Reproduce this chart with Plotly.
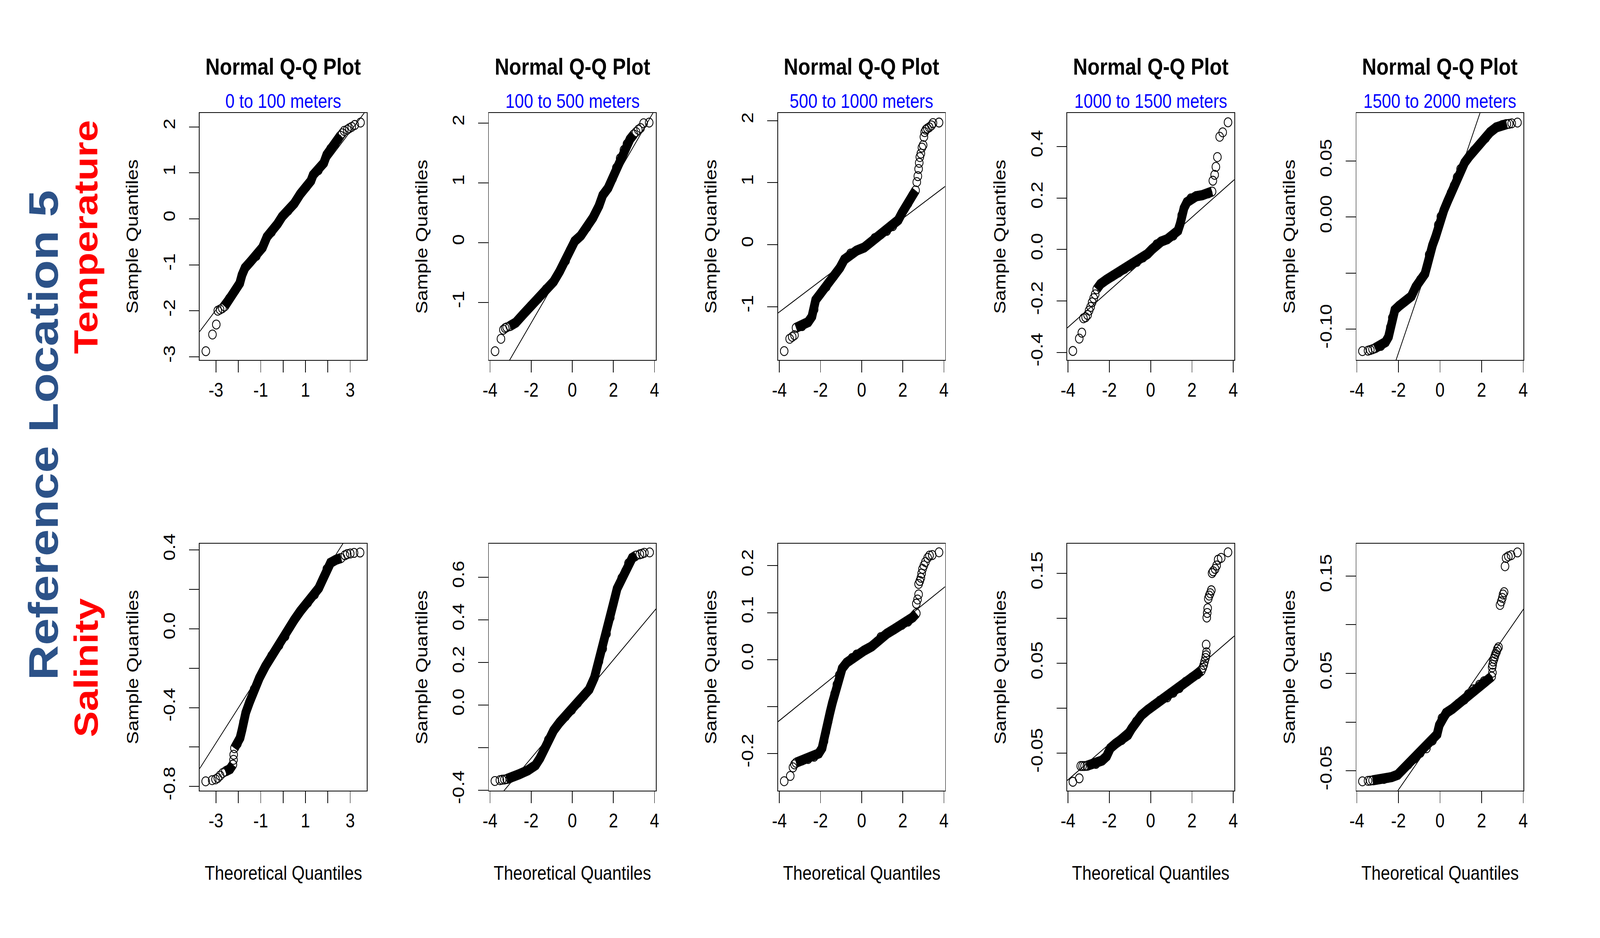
import plotly.graph_objects as go

W, H = 4800, 2400

# ------------------------------------------------------------------ data
depth_labels = ["0 to 100 meters", "100 to 500 meters", "500 to 1000 meters",
                "1000 to 1500 meters", "1500 to 2000 meters"]
row_labels = ["Temperature", "Salinity"]
main_label = "Reference Location 5"

# Temperature panels: dense run of points (band) and outlying points
T1_theo = [-2.614,-2.411,-2.141,-1.938,-1.836,-1.701,-1.464,-1.193,-0.923,-0.720,-0.517,-0.246,-0.043,0.227,0.498,0.769,1.039,1.242,1.344,1.581,1.817,1.953,2.122,2.325,2.460,2.562]
T1_samp = [-1.903,-1.737,-1.555,-1.400,-1.219,-1.064,-0.935,-0.805,-0.624,-0.391,-0.288,-0.107,0.049,0.178,0.333,0.540,0.696,0.825,0.954,1.058,1.213,1.394,1.524,1.627,1.731,1.809]
T1_theo_out = [-3.453,-3.156,-2.986,-2.919,-2.817,-2.716,2.65,2.731,2.866,2.96,3.069,3.204,3.461]
T1_samp_out = [-2.876,-2.513,-2.296,-1.996,-1.970,-1.944,1.86,1.912,1.938,1.97,2.000,2.041,2.093]

T2_theo = [-3.043,-2.749,-2.381,-2.013,-1.645,-1.277,-0.909,-0.615,-0.321,-0.100,0.121,0.415,0.709,1.004,1.298,1.482,1.740,1.960,2.144,2.328,2.512,2.659,2.806,2.990]
T2_samp = [-1.398,-1.339,-1.199,-1.060,-0.932,-0.781,-0.653,-0.482,-0.303,-0.124,0.024,0.116,0.255,0.414,0.614,0.793,0.912,1.072,1.251,1.410,1.550,1.649,1.729,1.809]
T2_theo_out = [-3.757,-3.470,-3.352,-3.264,-3.191,3.101,3.211,3.322,3.469,3.741]
T2_samp_out = [-1.817,-1.610,-1.458,-1.430,-1.418,1.849,1.888,1.916,1.996,2.008]

T3_theo = [-3.191,-2.896,-2.602,-2.418,-2.308,-2.234,-2.013,-1.719,-1.351,-1.057,-0.836,-0.542,-0.247,0.121,0.341,0.636,0.930,1.224,1.519,1.776,1.960,2.255,2.475,2.623]
T3_samp = [-1.342,-1.315,-1.250,-1.161,-1.046,-0.892,-0.796,-0.681,-0.508,-0.374,-0.239,-0.143,-0.097,-0.047,0.010,0.106,0.164,0.222,0.299,0.395,0.510,0.663,0.798,0.875]
T3_theo_out = [-3.765,-3.500,-3.375,-3.264,2.681,2.733,2.770,2.80,2.829,2.880,2.932,2.990,3.027,3.064,3.123,3.197,3.285,3.395,3.469,3.763]
T3_samp_out = [-1.718,-1.519,-1.488,-1.461,1.009,1.105,1.221,1.32,1.413,1.470,1.566,1.605,1.739,1.816,1.854,1.874,1.893,1.924,1.962,1.970]

T4_theo = [-2.611,-2.428,-2.134,-1.840,-1.546,-1.252,-0.958,-0.664,-0.370,-0.150,0.071,0.291,0.511,0.805,1.099,1.320,1.430,1.503,1.614,1.760,1.944,2.201,2.495,2.789,2.973]
T4_samp = [-0.154,-0.134,-0.117,-0.103,-0.089,-0.075,-0.063,-0.048,-0.031,-0.017,0.001,0.020,0.031,0.040,0.054,0.073,0.100,0.133,0.161,0.184,0.199,0.207,0.211,0.218,0.225]
T4_theo_out = [-3.765,-3.456,-3.331,-3.251,-3.148,-3.052,-2.979,-2.905,-2.832,-2.758,-2.685,3.010,3.098,3.157,3.230,3.340,3.487,3.744]
T4_samp_out = [-0.394,-0.346,-0.323,-0.267,-0.263,-0.254,-0.237,-0.223,-0.205,-0.189,-0.174,0.267,0.290,0.321,0.359,0.438,0.455,0.494]

T5_theo = [-3.132,-2.840,-2.621,-2.476,-2.388,-2.293,-2.169,-1.965,-1.673,-1.381,-1.163,-0.944,-0.725,-0.616,-0.521,-0.360,-0.214,-0.083,0.041,0.187,0.369,0.530,0.675,0.821,0.989,1.186,1.405,1.624,1.901,2.193,2.411,2.703,2.995,3.214]
T5_samp = [-0.1170,-0.1149,-0.1115,-0.1068,-0.0983,-0.0898,-0.0828,-0.0792,-0.0750,-0.0707,-0.0622,-0.0559,-0.0506,-0.0431,-0.0336,-0.0251,-0.0177,-0.0071,0.0004,0.0061,0.0142,0.0216,0.0279,0.0354,0.0428,0.0485,0.0540,0.0591,0.0647,0.0704,0.0757,0.0799,0.0820,0.0829]
T5_theo_out = [-3.730,-3.460,-3.351,-3.241,3.323,3.447,3.724]
T5_samp_out = [-0.1195,-0.1191,-0.1185,-0.1178,0.0831,0.0835,0.0842]

# Salinity panels
S1_theo = [-2.581,-2.378,-2.242,None,-2.175,-2.039,-1.924,-1.836,-1.769,-1.667,-1.498,-1.295,-1.058,-0.788,-0.517,-0.179,0.092,0.295,0.498,0.769,1.107,1.411,1.594,1.784,1.953,2.122,2.359,2.595]
S1_samp = [-0.724,-0.712,-0.689,None,-0.606,-0.583,-0.554,-0.513,-0.472,-0.425,-0.372,-0.307,-0.249,-0.190,-0.137,-0.084,-0.038,0.007,0.045,0.089,0.133,0.174,0.206,0.253,0.303,0.335,0.350,0.359]
S1_theo_out = [-3.460,-3.169,-3.020,-2.919,-2.817,-2.696,-2.215,-2.208,2.765,2.866,3.001,3.171,3.441]
S1_samp_out = [-0.774,-0.768,-0.764,-0.757,-0.745,-0.732,-0.665,-0.639,0.373,0.379,0.382,0.385,0.387]

S2_theo = [-3.191,-3.043,-2.602,-2.160,-1.792,-1.572,-1.388,-1.167,-0.909,-0.615,-0.321,-0.026,0.268,0.562,0.820,1.077,1.298,1.482,1.666,1.850,1.997,2.181,2.402,2.586,2.733,2.917,3.101]
S2_samp = [-0.348,-0.344,-0.326,-0.307,-0.283,-0.250,-0.212,-0.164,-0.120,-0.082,-0.053,-0.023,0.010,0.043,0.073,0.129,0.205,0.265,0.335,0.411,0.476,0.547,0.596,0.628,0.666,0.691,0.702]
S2_theo_out = [-3.765,-3.522,-3.411,-3.301,3.285,3.395,3.506,3.763]
S2_samp_out = [-0.357,-0.353,-0.351,-0.350,0.708,0.711,0.715,0.717]

S3_theo = [-3.191,-2.896,-2.602,-2.308,-2.087,-1.925,-1.829,-1.741,-1.631,-1.535,-1.425,-1.314,-1.204,-1.093,-0.946,-0.726,-0.468,-0.247,0.121,0.489,0.746,0.930,1.224,1.592,1.960,2.255,2.475,2.659]
S3_samp = [-0.2197,-0.2148,-0.2118,-0.2069,-0.2000,-0.1887,-0.1739,-0.1542,-0.1320,-0.1123,-0.0926,-0.0729,-0.0532,-0.0335,-0.0187,-0.0064,0.0034,0.0108,0.0192,0.0281,0.0379,0.0478,0.0552,0.0650,0.0739,0.0808,0.0897,0.0985]
S3_theo_out = [-3.765,-3.470,-3.338,-3.264,2.659,2.718,2.770,2.770,2.829,2.880,2.917,2.961,3.027,3.101,3.211,3.300,3.432,3.763]
S3_samp_out = [-0.2591,-0.2478,-0.2296,-0.2232,0.1192,0.1281,0.1389,0.1611,0.1675,0.1744,0.1833,0.1931,0.2005,0.2079,0.2167,0.2217,0.2227,0.2286]

S4_theo = [-3.089,-2.648,-2.354,-2.134,-1.950,-1.693,-1.399,-1.105,-0.921,-0.701,-0.444,-0.150,0.144,0.438,0.805,1.099,1.393,1.687,1.981,2.275,2.458]
S4_samp = [-0.0639,-0.0618,-0.0580,-0.0533,-0.0443,-0.0392,-0.0353,-0.0297,-0.0225,-0.0148,-0.0076,-0.0019,0.0032,0.0084,0.0122,0.0174,0.0225,0.0294,0.0341,0.0379,0.0418]
S4_theo_out = [-3.765,-3.456,-3.383,-3.295,-3.199,2.52,2.569,2.61,2.657,2.68,2.701,2.686,2.716,2.738,2.760,2.789,2.833,2.885,2.936,2.973,3.024,3.120,3.193,3.267,3.414,3.744]
S4_samp_out = [-0.0816,-0.0778,-0.0641,-0.0641,-0.0641,0.045,0.0482,0.052,0.0559,0.059,0.0623,0.0708,0.1009,0.1060,0.1112,0.1220,0.1253,0.1279,0.1312,0.1503,0.1523,0.1549,0.1587,0.1652,0.1672,0.1734]

S5_theo = [-3.241,-2.694,-2.330,-2.038,-1.819,-1.527,-1.236,-0.944,-0.652,-0.360,-0.141,-0.032,0.092,0.296,0.588,0.880,1.172,1.354,1.609,1.901,2.120,2.338,2.484]
S5_samp = [-0.0597,-0.0583,-0.0564,-0.0540,-0.0493,-0.0434,-0.0374,-0.0315,-0.0268,-0.0189,-0.0125,-0.0030,0.0041,0.0095,0.0136,0.0190,0.0231,0.0285,0.0337,0.0385,0.0421,0.0444,0.0468]
S5_theo_out = [-3.730,-3.460,-3.351,2.521,2.506,2.53,2.557,2.60,2.630,2.67,2.718,2.76,2.813,2.886,2.944,2.995,3.031,3.082,3.126,3.177,3.287,3.418,3.724]
S5_samp_out = [-0.0607,-0.0602,-0.0600,0.0508,0.0563,0.059,0.0622,0.065,0.0674,0.070,0.0722,0.075,0.0769,0.1203,0.1239,0.1275,0.1310,0.1334,0.1600,0.1685,0.1702,0.1713,0.1742]

# qqline intercepts and slopes (T1..T5, S1..S5)
qq_intercept = [-0.041, -0.159, -0.081, -0.017, -0.0122, -0.0446, -0.0188, 0.0117, 0.0, -0.0078]
qq_slope = [0.646, 0.593, 0.2514, 0.0712, 0.05456, 0.1783, 0.1155, 0.03539, 0.01985, 0.03084]

# tick labels
x_ticks_col1 = [-3, -2, -1, 0, 1, 2, 3]
x_text_col1 = ["-3", "", "-1", "", "1", "", "3"]
x_ticks_other = [-4, -2, 0, 2, 4]
x_text_other = ["-4", "-2", "0", "2", "4"]

y_ticks = [
    [-3, -2, -1, 0, 1, 2],
    [-1, 0, 1, 2],
    [-1, 0, 1, 2],
    [-0.4, -0.2, 0.0, 0.2, 0.4],
    [-0.10, -0.05, 0.00, 0.05],
    [-0.8, -0.6, -0.4, -0.2, 0.0, 0.2, 0.4],
    [-0.4, -0.2, 0.0, 0.2, 0.4, 0.6],
    [-0.2, -0.1, 0.0, 0.1, 0.2],
    [-0.05, 0.00, 0.05, 0.10, 0.15],
    [-0.05, 0.00, 0.05, 0.10, 0.15],
]
y_text = [
    ["-3", "-2", "-1", "0", "1", "2"],
    ["-1", "0", "1", "2"],
    ["-1", "0", "1", "2"],
    ["-0.4", "-0.2", "0.0", "0.2", "0.4"],
    ["-0.10", "", "0.00", "0.05"],
    ["-0.8", "", "-0.4", "", "0.0", "", "0.4"],
    ["-0.4", "", "0.0", "0.2", "0.4", "0.6"],
    ["-0.2", "", "0.0", "0.1", "0.2"],
    ["-0.05", "", "0.05", "", "0.15"],
    ["-0.05", "", "0.05", "", "0.15"],
]

# ------------------------------------------------------------------ layout config
dense = [(T1_theo, T1_samp), (T2_theo, T2_samp), (T3_theo, T3_samp), (T4_theo, T4_samp), (T5_theo, T5_samp),
         (S1_theo, S1_samp), (S2_theo, S2_samp), (S3_theo, S3_samp), (S4_theo, S4_samp), (S5_theo, S5_samp)]
outl = [(T1_theo_out, T1_samp_out), (T2_theo_out, T2_samp_out), (T3_theo_out, T3_samp_out),
        (T4_theo_out, T4_samp_out), (T5_theo_out, T5_samp_out), (S1_theo_out, S1_samp_out),
        (S2_theo_out, S2_samp_out), (S3_theo_out, S3_samp_out), (S4_theo_out, S4_samp_out),
        (S5_theo_out, S5_samp_out)]

x_ranges = [[-3.73, 3.74], [-4.06, 4.07], [-4.066, 4.06], [-4.04, 4.05], [-4.02, 4.015]]
y_ranges = [[-3.067, 2.300], [-1.964, 2.167], [-1.861, 2.123], [-0.429, 0.530], [-0.1274, 0.0927],
            [-0.821, 0.432], [-0.402, 0.758], [-0.279, 0.247], [-0.0914, 0.183], [-0.0702, 0.1832]]

col_left = [582 + 873.75 * i for i in range(5)]
row_top = [270, 1400]
BW, BH = 505, 648
FONT = "Liberation Sans, Arial, Helvetica, sans-serif"
MS = 23

fig = go.Figure()
layout = {}
annotations = []

for r in range(2):
    for c in range(5):
        k = r * 5 + c
        n = k + 1
        xa = "x" if n == 1 else f"x{n}"
        ya = "y" if n == 1 else f"y{n}"
        dx, dy = dense[k]
        ox, oy = outl[k]
        # dense band of overlapping points
        fig.add_trace(go.Scatter(x=dx, y=dy, mode="lines", xaxis=xa, yaxis=ya,
                                 line=dict(color="black", width=MS + 3), hoverinfo="skip",
                                 showlegend=False))
        px = [v for v in dx if v is not None] + ox
        py = [v for v in dy if v is not None] + oy
        fig.add_trace(go.Scatter(x=px, y=py, mode="markers", xaxis=xa, yaxis=ya,
                                 marker=dict(symbol="circle-open", size=MS, color="black",
                                             line=dict(width=2.3, color="black")),
                                 showlegend=False))
        xr = x_ranges[c]
        a, b = qq_intercept[k], qq_slope[k]
        fig.add_trace(go.Scatter(x=[xr[0], xr[1]], y=[a + b * xr[0], a + b * xr[1]], mode="lines",
                                 xaxis=xa, yaxis=ya, line=dict(color="black", width=2.2),
                                 showlegend=False, hoverinfo="skip"))

        x0 = col_left[c] / W
        x1 = (col_left[c] + BW) / W
        y1 = 1 - row_top[r] / H
        y0 = 1 - (row_top[r] + BH) / H
        common = dict(showgrid=False, zeroline=False, showline=True, mirror=True,
                      linecolor="black", linewidth=2.2, ticks="outside", ticklen=30,
                      tickwidth=2.2, tickcolor="black",
                      tickfont=dict(family=FONT, size=50, color="black"))
        layout["xaxis" if n == 1 else f"xaxis{n}"] = dict(
            domain=[x0, x1], anchor=ya, range=xr, tickmode="array",
            tickvals=x_ticks_col1 if c == 0 else x_ticks_other,
            ticktext=x_text_col1 if c == 0 else x_text_other,
            ticklabelstandoff=2, **common)
        layout["yaxis" if n == 1 else f"yaxis{n}"] = dict(
            domain=[y0, y1], anchor=xa, range=y_ranges[k], tickmode="array",
            tickvals=y_ticks[k], ticktext=y_text[k], tickangle=-90,
            ticklabelstandoff=22, **common)

        cx = (col_left[c] + BW / 2) / W
        if r == 0:
            annotations.append(dict(text="<b>Normal Q-Q Plot</b>", x=cx, y=1 - 148 / H,
                                    xref="paper", yref="paper", showarrow=False,
                                    xanchor="center", yanchor="middle",
                                    font=dict(family=FONT, size=60, color="black")))
            annotations.append(dict(text=depth_labels[c], x=cx, y=1 - 239 / H,
                                    xref="paper", yref="paper", showarrow=False,
                                    xanchor="center", yanchor="middle",
                                    font=dict(family=FONT, size=50, color="#0000FF")))
        else:
            annotations.append(dict(text="Theoretical Quantiles", x=cx, y=1 - 2265 / H,
                                    xref="paper", yref="paper", showarrow=False,
                                    xanchor="center", yanchor="middle",
                                    font=dict(family=FONT, size=50, color="black")))
        annotations.append(dict(text="Sample Quantiles", x=(col_left[c] - 203) / W,
                                y=1 - (row_top[r] + BH / 2) / H, textangle=-90,
                                xref="paper", yref="paper", showarrow=False,
                                xanchor="center", yanchor="middle",
                                font=dict(family=FONT, size=50, color="black")))

annotations.append(dict(text="<b>" + main_label + "</b>", x=110 / W, y=1 - 1115 / H, textangle=-90,
                        xref="paper", yref="paper", showarrow=False, xanchor="center",
                        yanchor="middle", font=dict(family=FONT, size=124, color="#2C5288")))
annotations.append(dict(text="<b>" + row_labels[0] + "</b>", x=238 / W, y=1 - 595 / H, textangle=-90,
                        xref="paper", yref="paper", showarrow=False, xanchor="center",
                        yanchor="middle", font=dict(family=FONT, size=100, color="#FF0000")))
annotations.append(dict(text="<b>" + row_labels[1] + "</b>", x=238 / W, y=1 - 1725 / H, textangle=-90,
                        xref="paper", yref="paper", showarrow=False, xanchor="center",
                        yanchor="middle", font=dict(family=FONT, size=100, color="#FF0000")))

fig.update_layout(width=W, height=H, margin=dict(l=0, r=0, t=0, b=0),
                  paper_bgcolor="white", plot_bgcolor="white", showlegend=False,
                  annotations=annotations, **layout)

# map the fixed 4800x2400 figure onto whatever CSS viewport the browser reports
fit_js = """
(function(){
  var gd = document.getElementById('{plot_id}');
  document.documentElement.style.margin = '0';
  document.body.style.margin = '0';
  document.documentElement.style.overflow = 'hidden';
  document.body.style.overflow = 'hidden';
  gd.style.position = 'absolute';
  gd.style.left = '0px';
  gd.style.top = '0px';
  var sx = window.innerWidth / 4800, sy = window.innerHeight / 2400;
  if (sx > 0 && sy > 0 && (Math.abs(sx - 1) > 0.002 || Math.abs(sy - 1) > 0.002)) {
    gd.style.transformOrigin = '0 0';
    gd.style.transform = 'scale(' + sx + ',' + sy + ')';
  }
})();
"""

fig.write_html("out.html", post_script=fit_js, config={"displayModeBar": False})
